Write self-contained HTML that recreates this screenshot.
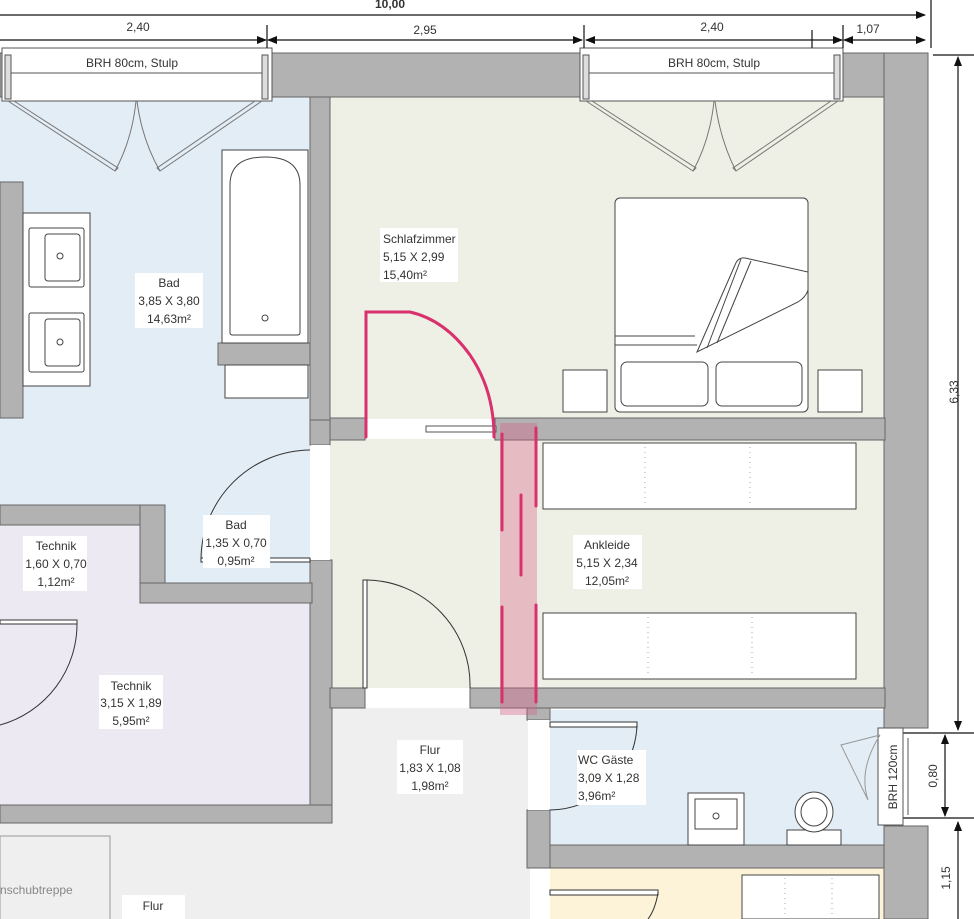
<!DOCTYPE html>
<html><head><meta charset="utf-8"><style>
html,body{margin:0;padding:0;background:#fff;}
svg{display:block;}
text{font-family:"Liberation Sans",sans-serif;font-size:12px;fill:#333;}
</style></head><body>
<svg width="974" height="919" viewBox="0 0 974 919" xmlns="http://www.w3.org/2000/svg">
<defs>
<marker id="ar" markerWidth="10" markerHeight="8" refX="9" refY="4" orient="auto-start-reverse" markerUnits="userSpaceOnUse"><path d="M0,0 L10,4 L0,8 z" fill="#111"/></marker>
</defs>
<!-- room fills -->
<rect x="0" y="97" width="310" height="486" fill="#e3edf5"/>
<rect x="330" y="97" width="555" height="591" fill="#eef0e5"/>
<rect x="0" y="525" width="140" height="80" fill="#ede9f2"/>
<rect x="0" y="603" width="312" height="202" fill="#ede9f2"/>
<rect x="0" y="823" width="530" height="96" fill="#efefef"/>
<rect x="330" y="708" width="200" height="211" fill="#efefef"/>
<rect x="550" y="710" width="335" height="135" fill="#e3edf5"/>
<rect x="550" y="868" width="335" height="51" fill="#fdf3d9"/>

<!-- walls -->
<g fill="#b2b2b2" stroke="#666" stroke-width="1">
<rect x="0" y="53" width="928" height="44"/>
<rect x="884" y="53" width="44" height="675"/>
<rect x="884" y="826" width="44" height="93"/>
<rect x="310" y="97" width="20" height="323"/>
<rect x="310" y="420" width="20" height="25"/>
<rect x="310" y="560" width="22" height="263"/>
<rect x="0" y="805" width="332" height="18"/>
<rect x="0" y="505" width="165" height="20"/>
<rect x="140" y="505" width="25" height="98"/>
<rect x="140" y="583" width="172" height="20"/>
<rect x="330" y="418" width="35" height="22"/>
<rect x="495" y="418" width="390" height="22"/>
<rect x="330" y="688" width="35" height="20"/>
<rect x="470" y="688" width="415" height="20"/>
<rect x="527" y="708" width="23" height="12"/>
<rect x="527" y="810" width="23" height="58"/>
<rect x="550" y="845" width="334" height="23"/>
<rect x="0" y="182" width="23" height="236"/>
<rect x="218" y="343" width="92" height="22"/>
</g>
<!-- door opening whites -->
<rect x="366" y="419" width="128" height="20" fill="#fff"/>
<rect x="366" y="689" width="103" height="19" fill="#fff"/>
<rect x="311" y="445" width="19" height="115" fill="#fff"/>
<rect x="528" y="720" width="21" height="90" fill="#fff"/>
<!-- sliding door -->
<rect x="426" y="426" width="70" height="6" fill="#fff" stroke="#555"/>

<!-- windows top -->
<g fill="#fff" stroke="#555">
<rect x="2" y="48" width="270" height="53"/>
<rect x="580" y="48" width="263" height="53"/>
<line x1="10" y1="73" x2="262" y2="73"/>
<line x1="588" y1="73" x2="835" y2="73"/>
<rect x="5" y="55" width="6" height="44" fill="#ddd"/>
<rect x="262" y="55" width="6" height="44" fill="#ddd"/>
<rect x="583" y="55" width="6" height="44" fill="#ddd"/>
<rect x="834" y="55" width="6" height="44" fill="#ddd"/>
</g>
<text x="132" y="67" text-anchor="middle" font-size="11">BRH 80cm, Stulp</text>
<text x="714" y="67" text-anchor="middle" font-size="11">BRH 80cm, Stulp</text>
<g fill="none" stroke="#777" stroke-width="1">
<path d="M8,101 L115,171 L118,168 L14,101"/>
<path d="M262,101 L160,171 L157,168 L255,101"/>
<path d="M136,101 Q132,140 115,171 M137,101 Q142,140 160,171"/>
<path d="M586,101 L693,171 L696,168 L592,101"/>
<path d="M838,101 L736,171 L733,168 L831,101"/>
<path d="M714,101 Q710,140 693,171 M715,101 Q720,140 736,171"/>
</g>

<!-- dimensions -->
<g stroke="#111" stroke-width="1.2" fill="none">
<line x1="0" y1="15" x2="925" y2="15" marker-end="url(#ar)"/>
<line x1="931" y1="0" x2="931" y2="48"/>
<line x1="0" y1="40" x2="266" y2="40" marker-end="url(#ar)"/>
<line x1="268" y1="40" x2="582" y2="40" marker-start="url(#ar)" marker-end="url(#ar)"/>
<line x1="586" y1="40" x2="842" y2="40" marker-start="url(#ar)" marker-end="url(#ar)"/>
<line x1="844" y1="40" x2="925" y2="40" marker-start="url(#ar)" marker-end="url(#ar)"/>
<line x1="267" y1="25" x2="267" y2="48"/><line x1="584" y1="25" x2="584" y2="48"/>
<line x1="843" y1="25" x2="843" y2="48"/><line x1="812" y1="30" x2="812" y2="48"/>
<line x1="933" y1="55" x2="974" y2="55"/>
<line x1="958" y1="57" x2="958" y2="730" marker-start="url(#ar)" marker-end="url(#ar)"/>
<line x1="903" y1="733" x2="974" y2="733"/><line x1="903" y1="818" x2="974" y2="818"/>
<line x1="945" y1="735" x2="945" y2="816" marker-start="url(#ar)" marker-end="url(#ar)"/>
<line x1="958" y1="822" x2="958" y2="919" marker-start="url(#ar)"/>
</g>
<text x="390" y="8" text-anchor="middle" font-weight="bold" font-size="11">10,00</text>
<text x="138" y="31" text-anchor="middle">2,40</text>
<text x="425" y="34" text-anchor="middle">2,95</text>
<text x="712" y="31" text-anchor="middle">2,40</text>
<text x="868" y="33" text-anchor="middle">1,07</text>
<text transform="translate(958,392) rotate(-90)" text-anchor="middle">6,33</text>
<text transform="translate(937,776) rotate(-90)" text-anchor="middle">0,80</text>
<text transform="translate(950,878) rotate(-90)" text-anchor="middle">1,15</text>

<!-- WC window -->
<rect x="878" y="728" width="25" height="97" fill="#fff" stroke="#555"/>
<line x1="908" y1="738" x2="908" y2="815" stroke="#555"/>
<text transform="translate(897,777) rotate(-90)" text-anchor="middle" font-size="12">BRH 120cm</text>
<path d="M880,735 L841,745 L868,800 M880,735 Q858,770 868,800" fill="none" stroke="#999"/>

<!-- furniture -->
<g fill="#fff" stroke="#444">
<rect x="23" y="213" width="67" height="173"/>
<rect x="29" y="228" width="55" height="59" rx="2"/><rect x="45" y="234" width="35" height="47" rx="3"/>
<rect x="29" y="313" width="55" height="59" rx="2"/><rect x="45" y="319" width="35" height="47" rx="3"/>
<circle cx="60" cy="256" r="3"/><circle cx="60" cy="342" r="3"/>
<rect x="222" y="150" width="86" height="193"/>
<path d="M230,333 L230,185 Q230,157 265,157 Q300,157 300,185 L300,333 Q300,335 297,335 L233,335 Q230,335 230,333 Z"/>
<circle cx="265" cy="318" r="3"/>
<rect x="225" y="365" width="83" height="33"/>
<rect x="615" y="198" width="193" height="214" rx="5"/>
<rect x="621" y="362" width="87" height="44" rx="6"/><rect x="716" y="362" width="86" height="44" rx="6"/>
<rect x="563" y="370" width="44" height="42"/><rect x="818" y="370" width="44" height="42"/>
<path d="M615,336 L695,336 M615,345 L697,345"/>
<path d="M697,352 L735,265 Q738,257 745,258 L808,272 L808,290 Q806,297 798,302 L697,352 Z"/>
<path d="M707,348 L741,259 M717,343 L751,261" fill="none"/>
<rect x="543" y="443" width="313" height="66"/>
<rect x="543" y="613" width="313" height="66"/>
<rect x="688" y="793" width="56" height="52"/><rect x="695" y="799" width="42" height="30"/>
<circle cx="716" cy="816" r="3"/>
<rect x="787" y="830" width="54" height="15"/>
<ellipse cx="814" cy="812" rx="19" ry="20"/><ellipse cx="814" cy="812" rx="13" ry="14"/>
<rect x="742" y="875" width="137" height="44"/>
<rect x="0" y="836" width="110" height="90" fill="none" stroke="#999"/>
</g>
<g stroke="#aaa" stroke-dasharray="1,4"><line x1="645" y1="447" x2="645" y2="506"/><line x1="750" y1="447" x2="750" y2="506"/><line x1="648" y1="617" x2="648" y2="676"/><line x1="752" y1="617" x2="752" y2="676"/><line x1="785" y1="878" x2="785" y2="916"/><line x1="832" y1="878" x2="832" y2="916"/></g>

<!-- doors -->
<g fill="none" stroke="#333" stroke-width="1">
<rect x="201" y="558" width="109" height="4" fill="#fff"/>
<path d="M201,560 A110,110 0 0 1 310,450"/>
<rect x="0" y="620" width="77" height="4" fill="#fff"/>
<path d="M77,622 A105,105 0 0 1 0,725"/>
<rect x="363" y="580" width="4" height="108" fill="#fff"/>
<path d="M367,580 A105,105 0 0 1 470,688"/>
<rect x="550" y="722" width="87" height="5" fill="#fff"/>
<path d="M637,725 A88,88 0 0 1 550,810"/>
<rect x="550" y="890" width="108" height="5" fill="#fff"/>
<path d="M658,893 Q655,910 648,919"/>
</g>

<!-- pink overlay -->
<rect x="500" y="423" width="37" height="292" fill="rgba(215,90,130,0.35)"/>
<g stroke="#d9306e" stroke-width="3" fill="none" stroke-linecap="round">
<path d="M366,437 L366,312 L410,312 Q445,320 470,355 Q494,390 494,437"/>
<line x1="502" y1="434" x2="502" y2="530"/><line x1="502" y1="607" x2="502" y2="702"/>
<line x1="521" y1="495" x2="521" y2="575"/>
<line x1="536" y1="428" x2="536" y2="506"/><line x1="536" y1="605" x2="536" y2="702"/>
</g>

<!-- labels -->
<g fill="#fff">
<rect x="380" y="228" width="78" height="54"/>
<rect x="135" y="273" width="68" height="55"/>
<rect x="203" y="515" width="67" height="53"/>
<rect x="23" y="536" width="64" height="55"/>
<rect x="99" y="675" width="64" height="54"/>
<rect x="573" y="535" width="69" height="54"/>
<rect x="397" y="740" width="66" height="54"/>
<rect x="577" y="750" width="69" height="55"/>
<rect x="122" y="895" width="63" height="24"/>
</g>
<text x="383" y="243">Schlafzimmer</text><text x="383" y="261">5,15 X 2,99</text><text x="383" y="279">15,40m²</text>
<g text-anchor="middle">
<text x="169" y="287">Bad</text><text x="169" y="305">3,85 X 3,80</text><text x="169" y="323">14,63m²</text>
<text x="236" y="529">Bad</text><text x="236" y="547">1,35 X 0,70</text><text x="236" y="565">0,95m²</text>
<text x="56" y="550">Technik</text><text x="56" y="568">1,60 X 0,70</text><text x="56" y="586">1,12m²</text>
<text x="131" y="690">Technik</text><text x="131" y="707">3,15 X 1,89</text><text x="131" y="725">5,95m²</text>
<text x="607" y="549">Ankleide</text><text x="607" y="567">5,15 X 2,34</text><text x="607" y="585">12,05m²</text>
<text x="430" y="754">Flur</text><text x="430" y="772">1,83 X 1,08</text><text x="430" y="790">1,98m²</text>
<text x="153" y="910">Flur</text>
</g>
<text x="578" y="764">WC Gäste</text><text x="578" y="782">3,09 X 1,28</text><text x="578" y="800">3,96m²</text>
<text x="0" y="894" style="fill:#888">nschubtreppe</text>
</svg>
</body></html>
